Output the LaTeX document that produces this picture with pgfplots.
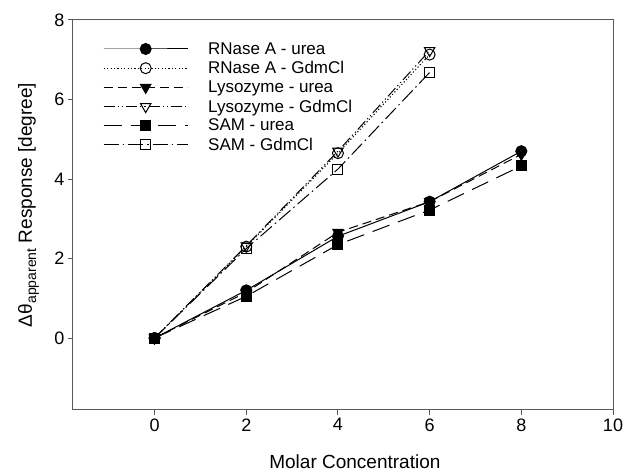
\documentclass[border=0pt]{standalone}
\usepackage{fontspec}
\setmainfont{Liberation Sans}
\usepackage{pgfplots}
\pgfplotsset{compat=1.18}
\begin{document}
\begin{tikzpicture}
  \begin{axis}[
      scale only axis,
      width=540pt, height=390pt,
      xmin=-1.78, xmax=10, ymin=-1.81, ymax=8,
      xtick={0,2,...,10}, ytick={0,2,...,8},
      tick align=outside, tick pos=left,
      major tick length=5pt,
      axis line style={draw=black!65, line width=1pt},
      every tick/.style={black!65, line width=1pt},
      tick label style={font=\fontsize{18}{20}\selectfont},
      /pgf/number format/assume math mode=true,
      xlabel={Molar Concentration},
      xlabel style={font=\fontsize{19}{21}\selectfont, at={(rel axis cs:0.522,0)}, anchor=base, yshift=-59pt},
      ylabel={Δθ\raisebox{-0.4ex}{\fontsize{14}{14}\selectfont apparent} Response [degree]},
      ylabel style={font=\fontsize{19}{21}\selectfont, at={(rel axis cs:0,0.526)}, anchor=base, yshift=41pt},
      legend style={at={(rel axis cs:0.05,0.955)}, anchor=north west, draw=none, fill=none,
        font=\fontsize{17}{19}\selectfont, row sep=0.7pt,
        nodes={inner xsep=10pt, inner ysep=0pt, minimum height=18.5pt}},
      legend cell align=left,
      legend image code/.code={
        \draw[mark repeat=2,mark phase=2,#1] plot coordinates {(0pt,0pt) (42pt,0pt) (84pt,0pt)};
        \path (94pt,0pt);},
      every axis plot/.append style={black, line width=1pt},
    ]
    \coordinate (ll) at (rel axis cs:0,0);
    \coordinate (ur) at (rel axis cs:1,1);

    \addplot[solid, mark=*, mark size=5.5pt, mark options={solid}]
      coordinates {(0,0) (2,1.2) (4,2.56) (6,3.43) (8,4.7)};
    \addlegendentry{RNase A - urea}

    \addplot[dash pattern=on 1.2pt off 2.2pt, mark=o, mark size=5.5pt, mark options={solid, fill=white}]
      coordinates {(0,0) (2,2.3) (4,4.65) (6,7.13)};
    \addlegendentry{RNase A - GdmCl}

    \addplot[dash pattern=on 9pt off 5pt, mark=triangle*, mark size=6pt, mark options={solid, rotate=180}]
      coordinates {(0,0) (2,1.15) (4,2.66) (6,3.43) (8,4.62)};
    \addlegendentry{Lysozyme - urea}

    \addplot[dash pattern=on 11pt off 3pt on 1.2pt off 3pt on 1.2pt off 3pt, mark=triangle, mark size=6pt, mark options={solid, rotate=180, fill=white}]
      coordinates {(0,0) (2,2.32) (4,4.7) (6,7.23)};
    \addlegendentry{Lysozyme - GdmCl}

    \addplot[dash pattern=on 18pt off 9pt, mark=square*, mark size=5pt, mark options={solid}]
      coordinates {(0,0) (2,1.05) (4,2.35) (6,3.22) (8,4.33)};
    \addlegendentry{SAM - urea}

    \addplot[dash pattern=on 15pt off 4pt on 1.5pt off 4pt, mark=square, mark size=5pt, mark options={solid, fill=white}]
      coordinates {(0,0) (2,2.25) (4,4.25) (6,6.68)};
    \addlegendentry{SAM - GdmCl}

    \node[anchor=base west, font=\fontsize{18}{20}\selectfont] at ([xshift=-70pt,yshift=-59pt]rel axis cs:0,0) {(A)};
  \end{axis}
  \pgfresetboundingbox
  \useasboundingbox ([xshift=-73pt,yshift=-63pt]ll) rectangle ([xshift=14pt,yshift=20pt]ur);
\end{tikzpicture}
\end{document}
